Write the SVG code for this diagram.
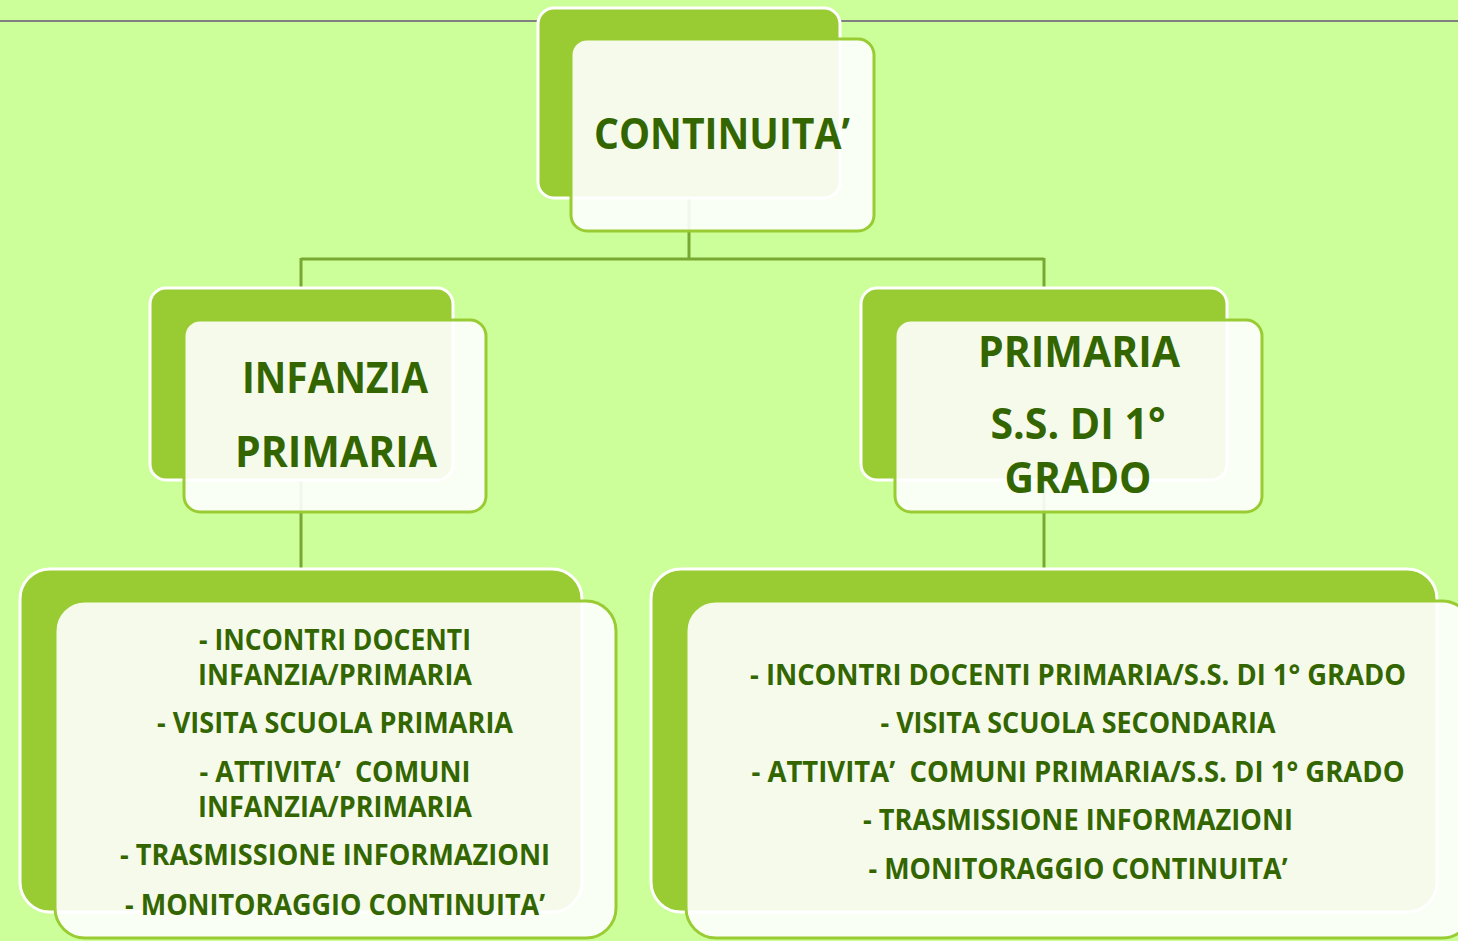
<svg xmlns="http://www.w3.org/2000/svg" width="1458" height="941" viewBox="0 0 1458 941">
<style>
.back{fill:#99CC33;stroke:#FFFFFF;stroke-width:3}
.front{fill:#FFFFFF;fill-opacity:0.9;stroke:#99CC33;stroke-width:3}
.conn{stroke:#77A832;stroke-width:3;fill:none}
.t{font-family:"Open Sans","Liberation Sans",sans-serif;font-weight:700;fill:#336600;text-anchor:middle;white-space:pre}
.big{font-size:43px}
.small{font-size:28px}
</style>
<rect x="0" y="0" width="1458" height="941" fill="#CCFF99"/>
<line x1="0" y1="21" x2="1458" y2="21" stroke="#808080" stroke-width="2"/>
<g id="connectors">
<path class="conn" d="M689 198 V259 M301 259 H1044 M301 258 V288 M1044 258 V288 M301 480 V569 M1044 480 V569"/>
</g>
<g id="continuita">
<rect class="back" x="538" y="8" width="302" height="190" rx="16"/>
<rect class="front" x="571" y="39" width="303" height="192" rx="16"/>
<text class="t big" x="722" y="149" textLength="256" lengthAdjust="spacingAndGlyphs">CONTINUITA’</text>
</g>
<g id="infanzia">
<rect class="back" x="150" y="288" width="303" height="192" rx="16"/>
<rect class="front" x="184" y="320" width="302" height="192" rx="16"/>
<text class="t big" x="335" y="393" textLength="186" lengthAdjust="spacingAndGlyphs">INFANZIA</text>
<text class="t big" x="336" y="467" textLength="202" lengthAdjust="spacingAndGlyphs">PRIMARIA</text>
</g>
<g id="primaria">
<rect class="back" x="861" y="288" width="366" height="192" rx="16"/>
<rect class="front" x="895" y="320" width="367" height="192" rx="16"/>
<text class="t big" x="1079" y="367" textLength="202" lengthAdjust="spacingAndGlyphs">PRIMARIA</text>
<text class="t big" x="1078" y="439" textLength="175" lengthAdjust="spacingAndGlyphs">S.S. DI 1°</text>
<text class="t big" x="1078" y="493" textLength="147" lengthAdjust="spacingAndGlyphs">GRADO</text>
</g>
<g id="attivita-infanzia">
<rect class="back" x="20" y="569" width="562" height="343" rx="30"/>
<rect class="front" x="55" y="601" width="561" height="337" rx="30"/>
<text class="t small" x="335" y="650" textLength="272" lengthAdjust="spacingAndGlyphs">- INCONTRI DOCENTI</text>
<text class="t small" x="335" y="685" textLength="274" lengthAdjust="spacingAndGlyphs">INFANZIA/PRIMARIA</text>
<text class="t small" x="335" y="733" textLength="356" lengthAdjust="spacingAndGlyphs">- VISITA SCUOLA PRIMARIA</text>
<text class="t small" x="335" y="782" textLength="271" lengthAdjust="spacingAndGlyphs" xml:space="preserve">- ATTIVITA’  COMUNI</text>
<text class="t small" x="335" y="817" textLength="274" lengthAdjust="spacingAndGlyphs">INFANZIA/PRIMARIA</text>
<text class="t small" x="335" y="865" textLength="430" lengthAdjust="spacingAndGlyphs">- TRASMISSIONE INFORMAZIONI</text>
<text class="t small" x="335" y="915" textLength="420" lengthAdjust="spacingAndGlyphs">- MONITORAGGIO CONTINUITA’</text>
</g>
<g id="attivita-primaria">
<rect class="back" x="651" y="569" width="786" height="343" rx="30"/>
<rect class="front" x="686" y="601" width="786" height="337" rx="30"/>
<text class="t small" x="1078" y="685" textLength="656" lengthAdjust="spacingAndGlyphs">- INCONTRI DOCENTI PRIMARIA/S.S. DI 1° GRADO</text>
<text class="t small" x="1078" y="733" textLength="395" lengthAdjust="spacingAndGlyphs">- VISITA SCUOLA SECONDARIA</text>
<text class="t small" x="1078" y="782" textLength="653" lengthAdjust="spacingAndGlyphs" xml:space="preserve">- ATTIVITA’  COMUNI PRIMARIA/S.S. DI 1° GRADO</text>
<text class="t small" x="1078" y="830" textLength="430" lengthAdjust="spacingAndGlyphs">- TRASMISSIONE INFORMAZIONI</text>
<text class="t small" x="1078" y="879" textLength="419" lengthAdjust="spacingAndGlyphs">- MONITORAGGIO CONTINUITA’</text>
</g>
</svg>
